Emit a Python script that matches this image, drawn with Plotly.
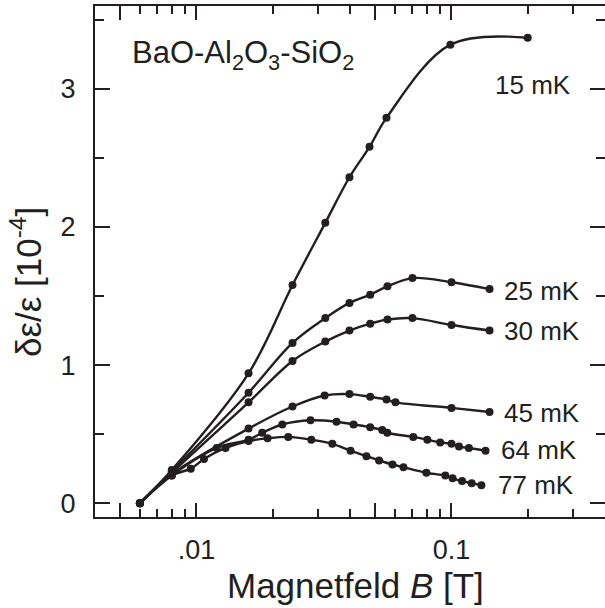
import math
import plotly.graph_objects as go

# Magnetic field B [T] and relative permittivity change [1e-4] for each temperature
B_15 = [0.006, 0.008, 0.016, 0.0238, 0.032, 0.0398, 0.0477, 0.0556, 0.099, 0.199]
Y_15 = [0.0, 0.24, 0.94, 1.58, 2.03, 2.36, 2.58, 2.79, 3.32, 3.37]

B_25 = [0.006, 0.008, 0.016, 0.0238, 0.032, 0.0398, 0.048, 0.0561, 0.0703, 0.1, 0.141]
Y_25 = [0.0, 0.23, 0.80, 1.16, 1.34, 1.45, 1.51, 1.57, 1.63, 1.60, 1.55]

B_30 = [0.006, 0.008, 0.016, 0.0238, 0.032, 0.0398, 0.048, 0.0561, 0.0703, 0.1, 0.141]
Y_30 = [0.0, 0.22, 0.73, 1.03, 1.17, 1.25, 1.30, 1.33, 1.34, 1.29, 1.25]

B_45 = [0.006, 0.008, 0.016, 0.0238, 0.0318, 0.0398, 0.048, 0.0556, 0.0603, 0.1, 0.141]
Y_45 = [0.0, 0.21, 0.54, 0.70, 0.78, 0.79, 0.77, 0.75, 0.73, 0.69, 0.66]

B_64 = [0.006, 0.008, 0.012, 0.016, 0.0181, 0.0217, 0.028, 0.0354, 0.0413, 0.048,
        0.0535, 0.056, 0.0708, 0.0804, 0.0903, 0.1, 0.107, 0.117, 0.136]
Y_64 = [0.0, 0.20, 0.40, 0.46, 0.51, 0.57, 0.60, 0.59, 0.57, 0.55,
        0.53, 0.51, 0.48, 0.46, 0.44, 0.43, 0.41, 0.40, 0.38]

B_77 = [0.006, 0.008, 0.0095, 0.0107, 0.013, 0.016, 0.019, 0.0229, 0.0282, 0.0341,
        0.0402, 0.0464, 0.052, 0.0587, 0.0648, 0.0797, 0.0946, 0.101, 0.110, 0.12, 0.131]
Y_77 = [0.0, 0.20, 0.25, 0.32, 0.40, 0.45, 0.47, 0.48, 0.46, 0.43,
        0.38, 0.34, 0.31, 0.28, 0.26, 0.22, 0.20, 0.18, 0.16, 0.145, 0.13]

SERIES = [("15 mK", B_15, Y_15), ("25 mK", B_25, Y_25), ("30 mK", B_30, Y_30),
          ("45 mK", B_45, Y_45), ("64 mK", B_64, Y_64), ("77 mK", B_77, Y_77)]

# curve label placement (left edge of text in data coords, vertical centre)
LABEL_POS = {"15 mK": (0.145, 3.03), "25 mK": (0.158, 1.54), "30 mK": (0.158, 1.25),
             "45 mK": (0.158, 0.65), "64 mK": (0.153, 0.384), "77 mK": (0.150, 0.13)}

X_TICKVALS = [0.005, 0.01, 0.05, 0.1]
X_TICKTEXT = ["", ".01", "", "0.1"]
X_MINOR = [0.004, 0.006, 0.007, 0.008, 0.009, 0.02, 0.03, 0.04,
           0.06, 0.07, 0.08, 0.09, 0.2, 0.3, 0.4]
Y_TICKVALS = [0, 1, 2, 3]

INK = "#231f20"
FONT = "Liberation Sans, Arial, sans-serif"

fig = go.Figure()
for name, bx, by in SERIES:
    fig.add_trace(go.Scatter(
        x=bx, y=by, mode="lines+markers", name=name,
        line=dict(color=INK, width=2.4, shape="spline", smoothing=1.0),
        marker=dict(color=INK, size=8),
        showlegend=False))
    lx, ly = LABEL_POS[name]
    fig.add_annotation(x=math.log10(lx), y=ly, xref="x", yref="y", text=name,
                       showarrow=False, xanchor="left", yanchor="middle",
                       font=dict(size=26, color=INK, family=FONT))

fig.add_annotation(x=0.068, y=0.905, xref="paper", yref="paper",
                   text="BaO-Al<sub>2</sub>O<sub>3</sub>-SiO<sub>2</sub>",
                   showarrow=False, xanchor="left", yanchor="middle",
                   font=dict(size=31, color=INK, family=FONT))

fig.add_annotation(x=0.51, y=-0.135, xref="paper", yref="paper",
                   text="Magnetfeld <i>B</i> [T]", showarrow=False,
                   xanchor="center", yanchor="middle",
                   font=dict(size=35, color=INK, family=FONT))

fig.add_annotation(x=-0.135, y=0.46, xref="paper", yref="paper",
                   text="δε/ε [10<sup>-4</sup>]", showarrow=False, textangle=-90,
                   xanchor="center", yanchor="middle",
                   font=dict(size=35, color=INK, family=FONT))

axis_common = dict(showline=True, linecolor=INK, linewidth=2, mirror="ticks",
                   ticks="inside", tickcolor=INK, tickwidth=2, showgrid=False,
                   zeroline=False, automargin=False,
                   tickfont=dict(size=27, color=INK, family=FONT))

fig.update_xaxes(type="log", range=[-2.398, -0.398], tickvals=X_TICKVALS,
                 ticktext=X_TICKTEXT, ticklen=14, ticklabelstandoff=8,
                 minor=dict(tickvals=X_MINOR, ticks="inside", ticklen=8,
                            tickcolor=INK, tickwidth=2, showgrid=False),
                 **axis_common)
fig.update_yaxes(range=[-0.1, 3.6], tickvals=Y_TICKVALS, ticklen=15,
                 ticklabelstandoff=12,
                 minor=dict(dtick=0.5, ticks="inside", ticklen=9, tickcolor=INK,
                            tickwidth=2, showgrid=False),
                 **axis_common)

fig.update_layout(width=605, height=608, plot_bgcolor="white", paper_bgcolor="white",
                  template="none",
                  margin=dict(l=95, r=0, t=6, b=91),
                  font=dict(family=FONT, color=INK))

fig.write_html("out.html", config={"displayModeBar": False},
               post_script="document.body.style.margin='0';document.body.style.overflow='hidden';")
